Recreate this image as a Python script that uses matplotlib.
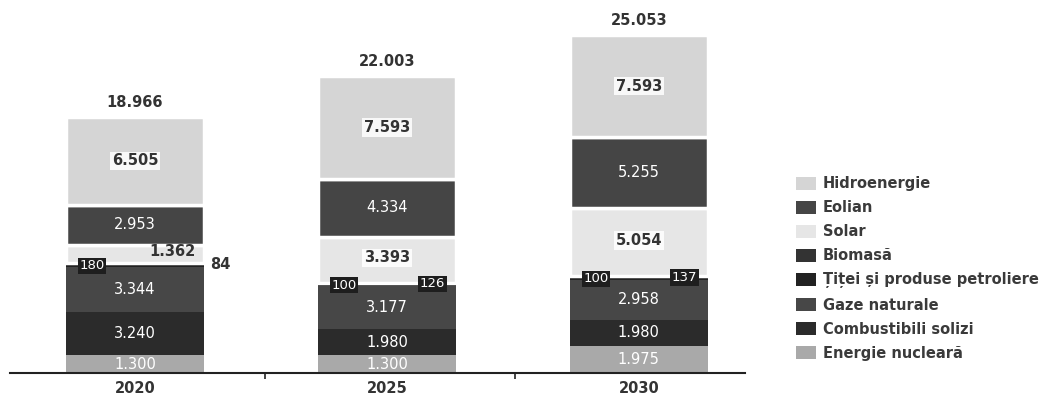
import matplotlib.pyplot as plt
from matplotlib.patches import Patch
import numpy as np

# --- DATE ---
years = ["2020", "2025", "2030"]
series = ["Energie nucleară", "Combustibili solizi", "Gaze naturale",
          "Țiței și produse petroliere", "Biomasă", "Solar", "Eolian", "Hidroenergie"]
nucleara = [1300, 1300, 1975]
solizi = [3240, 1980, 1980]
gaze = [3344, 3177, 2958]
titei = [180, 100, 100]
biomasa = [84, 126, 137]
solar = [1362, 3393, 5054]
eolian = [2953, 4334, 5255]
hidro = [6505, 7593, 7593]
totals = [18966, 22003, 25053]

colors = ["#a9a9a9", "#2b2b2b", "#474747", "#222222", "#333333",
          "#e6e6e6", "#454545", "#d5d5d5"]
white_edge = [False, False, False, False, False, True, True, True]


def fmt(v):
    return f"{v:,}".replace(",", ".")


fig = plt.figure(figsize=(10.45, 3.98), dpi=100)
ax = fig.add_axes([0.0096, 0.063, 0.703, 0.937])

x = np.arange(len(years))
W = 0.545
data = [nucleara, solizi, gaze, titei, biomasa, solar, eolian, hidro]
bottom = np.zeros(len(years))
bottoms = []
for vals, col, edge in zip(data, colors, white_edge):
    bottoms.append(bottom.copy())
    ax.bar(x, vals, W, bottom=bottom, color=col,
           edgecolor="white" if edge else col, linewidth=2.5 if edge else 0)
    bottom = bottom + np.array(vals)

dark = "#333333"
box_w = dict(boxstyle="square,pad=0.12", fc="white", ec="none", alpha=0.85)
box_d = dict(boxstyle="square,pad=0.12", fc="#1e1e1e", ec="none")

for i in range(len(years)):
    # total
    ax.text(x[i], totals[i] + 500, fmt(totals[i]), ha="center", va="bottom",
            fontsize=10.5, fontweight="bold", color=dark)
    # etichete albe centrate
    for k in (0, 1, 2, 6):
        ax.text(x[i], bottoms[k][i] + data[k][i] / 2, fmt(data[k][i]),
                ha="center", va="center", fontsize=10.5, color="white")
    # hidro
    ax.text(x[i], bottoms[7][i] + hidro[i] / 2, fmt(hidro[i]), ha="center",
            va="center", fontsize=10.5, fontweight="bold", color=dark, bbox=box_w)
    # titei
    ax.text(x[i] - 0.17, bottoms[3][i] + 60, fmt(titei[i]), ha="center",
            va="center", fontsize=9.5, color="white", bbox=box_d)
    # biomasa + solar
    if i == 0:
        ax.text(x[i] + 0.34, bottoms[4][i] + 0, fmt(biomasa[i]), ha="center",
                va="center", fontsize=10.5, fontweight="bold", color=dark)
        ax.text(x[i] + 0.15, bottoms[5][i] + solar[i] / 2 + 200, fmt(solar[i]),
                ha="center", va="center", fontsize=10.5, fontweight="bold", color=dark)
    else:
        ax.text(x[i] + 0.18, bottoms[4][i] + 60, fmt(biomasa[i]), ha="center",
                va="center", fontsize=9.5, color="white", bbox=box_d)
        ax.text(x[i], bottoms[5][i] + solar[i] / 2 + 150, fmt(solar[i]),
                ha="center", va="center", fontsize=10.5, fontweight="bold",
                color=dark, bbox=box_w)

ax.set_xlim(-0.496, 2.42)
ax.set_ylim(0, 27650)
ax.set_yticks([])
ax.set_xticks(x)
ax.set_xticklabels(years, fontsize=10.5, fontweight="bold", color=dark)
ax.tick_params(axis="x", length=0, pad=6)
ax.set_xticks([0.516, 1.51], minor=True)
ax.tick_params(axis="x", which="minor", length=4, width=1.2, color="#222222")
for s in ("top", "right", "left"):
    ax.spines[s].set_visible(False)
ax.spines["bottom"].set_linewidth(1.5)
ax.spines["bottom"].set_color("#222222")

handles = [Patch(facecolor=c, edgecolor="none", label=n)
           for c, n in zip(colors, series)]
fig.legend(handles=handles[::-1], loc="upper left",
           bbox_to_anchor=(0.749, 0.59), frameon=False,
           prop=dict(size=10.5, weight="bold"),
           handlelength=1.4, handleheight=1.0, handletextpad=0.45,
           labelspacing=0.62, labelcolor="#3a3a3a")

fig.savefig("out.png", dpi=100)
